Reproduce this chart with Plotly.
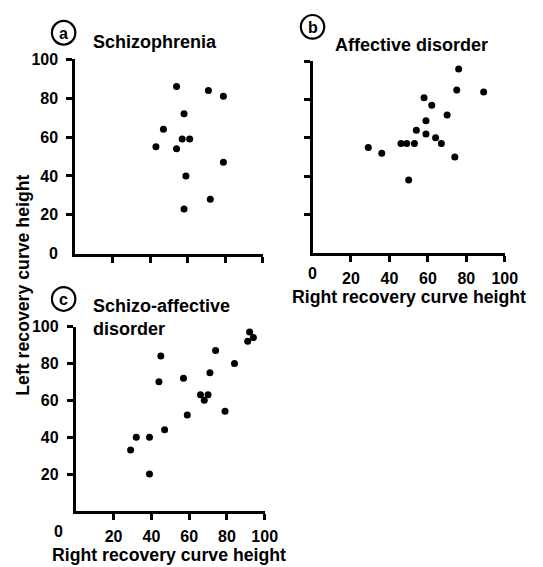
import plotly.graph_objects as go

# ---- data ----
a_right = [54, 71, 79, 58, 47, 43, 54, 57, 61, 59, 58, 72, 79]
a_left = [86, 84, 81, 72, 64, 55, 54, 59, 59, 40, 23, 28, 47]

b_right = [76, 75, 89, 58, 62, 70, 59, 54, 59, 64, 67, 46, 49, 53, 29, 36, 74, 50]
b_left = [96, 85, 84, 81, 77, 72, 69, 64, 62, 60, 57, 57, 57, 57, 55, 52, 50, 38]

c_right = [92, 94, 91, 74, 45, 44, 57, 71, 84, 66, 70, 68, 79, 59, 47, 32, 39, 29, 39]
c_left = [97, 94, 92, 87, 84, 70, 72, 75, 80, 63, 63, 60, 54, 52, 44, 40, 40, 33, 20]

tick_vals = [20, 40, 60, 80, 100]
tick_text = ["20", "40", "60", "80", "100"]
panel_titles = ["Schizophrenia", "Affective disorder", "Schizo-affective<br>disorder"]
panel_letters = ["a", "b", "c"]
x_title = "Right recovery curve height"
y_title = "Left recovery curve height"

W, H = 543, 567
OFF = 8  # page body margin offsets the figure by this many pixels

def px_x(p):
    return (p - OFF) / W

def px_y(p):
    return 1 - (p - OFF) / H

TICK_FONT = dict(family="Liberation Sans, Arial", size=16, color="black", weight="bold")
TXT_FONT = dict(family="Liberation Sans, Arial", size=18, color="black", weight="bold")
AX_FONT = dict(family="Liberation Sans, Arial", size=17.7, color="black", weight="bold")

fig = go.Figure()
mk = dict(color="black", size=7)
fig.add_trace(go.Scatter(x=a_right, y=a_left, mode="markers", marker=mk, xaxis="x", yaxis="y", showlegend=False))
fig.add_trace(go.Scatter(x=b_right, y=b_left, mode="markers", marker=mk, xaxis="x2", yaxis="y2", showlegend=False))
fig.add_trace(go.Scatter(x=c_right, y=c_left, mode="markers", marker=mk, xaxis="x3", yaxis="y3", showlegend=False))

def axis(domain, labels, anchor, standoff):
    return dict(
        domain=domain, range=[0, 100], anchor=anchor,
        showline=True, linecolor="black", linewidth=3,
        ticks="outside", ticklen=6, tickwidth=3, tickcolor="black",
        tickvals=tick_vals, ticktext=tick_text, showticklabels=labels,
        tickfont=TICK_FONT, ticklabelstandoff=standoff,
        showgrid=False, zeroline=False, fixedrange=True,
    )

fig.update_layout(
    width=W, height=H,
    margin=dict(l=0, r=0, t=0, b=0),
    paper_bgcolor="white", plot_bgcolor="white",
    xaxis=axis([px_x(77), px_x(269)], False, "y", 3),
    yaxis=axis([px_y(249), px_y(52)], True, "x", 5),
    xaxis2=axis([px_x(320), px_x(517)], True, "y2", 3),
    yaxis2=axis([px_y(248), px_y(54)], False, "x2", 5),
    xaxis3=axis([px_x(77.5), px_x(271)], True, "y3", 3),
    yaxis3=axis([px_y(510), px_y(323)], True, "x3", 5),
)

ann = []
ann.append(dict(text=panel_titles[0], x=px_x(93), y=px_y(34), xref="paper", yref="paper",
                xanchor="left", yanchor="middle", showarrow=False, font=TXT_FONT))
ann.append(dict(text=panel_titles[1], x=px_x(341), y=px_y(37), xref="paper", yref="paper",
                xanchor="left", yanchor="middle", showarrow=False, font=TXT_FONT))
ann.append(dict(text=panel_titles[2], x=px_x(93), y=px_y(314), xref="paper", yref="paper",
                xanchor="left", yanchor="middle", align="left", showarrow=False, font=TXT_FONT))
ann.append(dict(text=x_title, x=px_x(419), y=px_y(293), xref="paper", yref="paper",
                xanchor="center", yanchor="middle", showarrow=False, font=AX_FONT))
ann.append(dict(text=x_title, x=px_x(173), y=px_y(555), xref="paper", yref="paper",
                xanchor="center", yanchor="middle", showarrow=False, font=AX_FONT))
ann.append(dict(text=y_title, x=px_x(24), y=px_y(281), xref="paper", yref="paper",
                xanchor="center", yanchor="middle", textangle=-90, showarrow=False, font=AX_FONT))
ann.append(dict(text="0", x=0, y=0, xref="x", yref="y", xanchor="right", yanchor="middle",
                xshift=-15, showarrow=False, font=TICK_FONT))
ann.append(dict(text="0", x=0, y=0, xref="x2", yref="y2", xanchor="center", yanchor="top",
                yshift=-10, showarrow=False, font=TICK_FONT))
ann.append(dict(text="0", x=0, y=0, xref="x3", yref="y3", xanchor="center", yanchor="top",
                xshift=-17, yshift=-10, showarrow=False, font=TICK_FONT))

circles = [(65, 25), (320, 19), (65, 295)]
R = 12
shapes = []
for (cx, cy), letter in zip(circles, panel_letters):
    shapes.append(dict(type="circle", xref="paper", yref="paper",
                       x0=px_x(cx - R), x1=px_x(cx + R), y0=px_y(cy + R), y1=px_y(cy - R),
                       line=dict(color="black", width=2.2)))
    ann.append(dict(text=letter, x=px_x(cx), y=px_y(cy + 1), xref="paper", yref="paper",
                    xanchor="center", yanchor="middle", showarrow=False,
                    font=dict(family="Liberation Sans, Arial", size=16, color="black", weight="bold")))

fig.update_layout(annotations=ann, shapes=shapes)
fig.write_html("out.html")
